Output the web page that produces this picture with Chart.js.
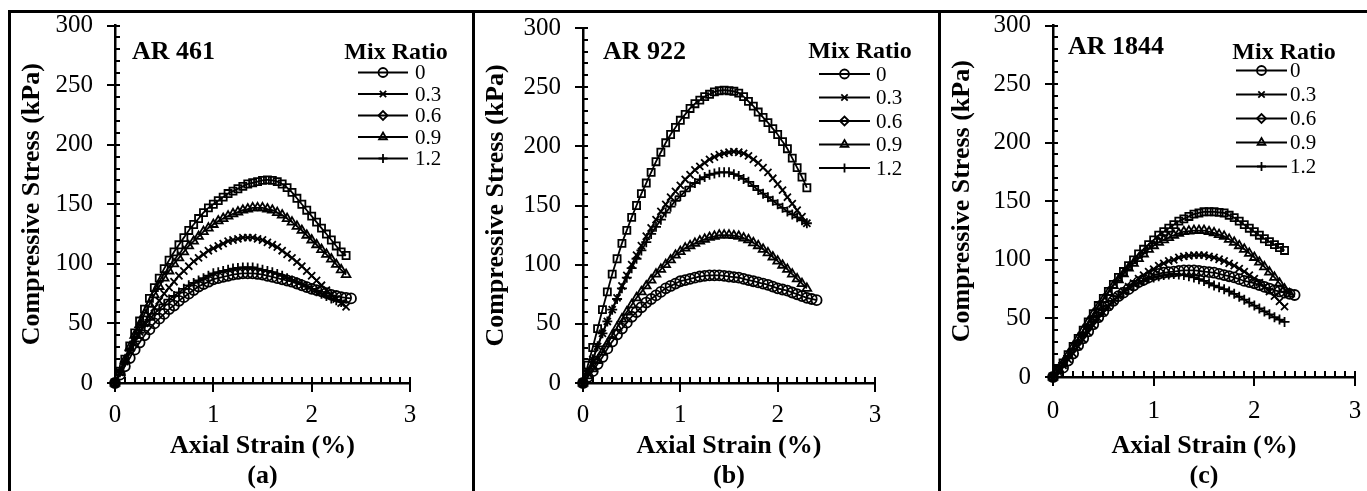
<!DOCTYPE html>
<html>
<head>
<meta charset="utf-8">
<script src="https://cdn.jsdelivr.net/npm/chart.js@4.4.1/dist/chart.umd.min.js"></script>
<style>
body{margin:0;background:#fff;width:1367px;height:491px;overflow:hidden;position:relative}
.panel{position:absolute;top:10px;height:478px;border-top:3px solid #000;border-left:3px solid #000}
.panel canvas{display:block}
#pa{left:8px;width:461px}
#pb{left:472px;width:463px}
#pc{left:938px;width:426px}
</style>
</head>
<body>
<div class="panel" id="pa"><canvas id="ca" width="461" height="478"></canvas></div>
<div class="panel" id="pb"><canvas id="cb" width="463" height="478"></canvas></div>
<div class="panel" id="pc"><canvas id="cc" width="426" height="478"></canvas></div>
<script>
// axial strain (%) readings, shared by every curve
var STRAIN = [0,0.05,0.1,0.15,0.2,0.25,0.3,0.35,0.4,0.45,0.5,0.55,0.6,0.65,0.7,0.75,0.8,0.85,0.9,0.95,
  1.0,1.05,1.1,1.15,1.2,1.25,1.3,1.35,1.4,1.45,1.5,1.55,1.6,1.65,1.7,1.75,1.8,1.85,1.9,1.95,
  2.0,2.05,2.1,2.15,2.2,2.25,2.3,2.35,2.4];

var MIX_RATIOS = ['0','0.3','0.6','0.9','1.2'];
var MARKERS = ['circle','crossRot','rect','triangle','cross'];
var LEGEND_MARKERS = ['circle','crossRot','rectRot','triangle','cross'];
var Y_TICKS = [0,50,100,150,200,250,300];
var X_TICKS = [0,1,2,3];

// compressive stress (kPa), AR 461
var ar461_0 = [0,7,14,21,28,34,40,45,50,54,58,62,65,69,72,75,78,81,83,85,87,88,89,90,91,91.5,92,92,92,91.5,91,90,89,88,87,86,85,83.5,82,80.5,79,78,77,75.5,74,73,72,71.5,71];
var ar461_03 = [0,9,18,27,35,43,50,57,63,69,75,80,85,90,94,98,102,105,108,111,113,115,117,119,120,121,122,122,122,121,120,118,116,114,111,108,105,101.5,98,94,90,86,82,78,74,70.5,67,64];
var ar461_06 = [0,10,20,31,42,52,62,71,80,88,96,103,110,116,122,128,133,138,143,147,150,153,156,159,161,163,165,167,168,169,170,170.5,170,169,167,164,160,155,150,145,140,135,130,125,120,115,110,107];
var ar461_09 = [0,9,19,30,40,49,58,66,74,81,88,94,100,105,110,115,119,123,127,130,133,136,138,140,142,143.5,145,146,147,147,147,146,145,143,141,138,135,131.5,128,124,120,116,112,108,104,99.5,95,91];
var ar461_12 = [0,9,18,27,35,42,48,53,58,62,66,70,73,76,79,82,84,86,88,90,92,93,94,95,96,96.5,97,97,97,96,95,94,93,91.5,90,88,86,84.5,83,81,79,77,75,73,71,69.5,68];

// AR 922
var ar922_0 = [0,5,10,16,22,29,35,41,46,51,56,60,64,68,71,74,77,80,82,84,86,87,88,89,90,90.5,91,91,91,90.5,90,89.5,89,88,87,86,85,84,83,81.5,80,79,78,76.5,75,73.5,72,71,70];
var ar922_03 = [0,10,20,31,42,52,62,72,82,91,100,108,116,124,131,138,145,151,157,162,167,172,176,180,183,186,189,191,193,194,195,195.5,195,194,192,189,186,182,178,173,168,163,157,151.5,146,140.5,135];
var ar922_06 = [0,15,30,46,62,77,92,105,118,129,140,150,160,169,178,187,195,203,210,216,222,227,232,236,239,242,244,246,247,247.5,247,246.5,245,242,238,234,229,224.5,220,215,210,204,198,190,182,174,165];
var ar922_09 = [0,6,12,19,26,33,40,47,54,60,66,72,77,82,87,92,96,100,104,108,111,114,116,118,120,121.5,123,124,125,125,125,124.5,124,122.5,121,118.5,116,113,110,106.5,103,99.5,96,92,88,84,80];
var ar922_12 = [0,10,20,31,42,52,62,71,80,89,97,105,112,119,126,132,138,144,149,154,158,162,166,169,172,174,176,177,178,178,178,176.5,175,172.5,170,166.5,163,160,157,154,151,148,145,142.5,140,137.5,135];

// AR 1844
var ar1844_0 = [0,4,8,14,20,27,33,39,45,51,56,61,65,69,72,75,78,81,83,85,87,88,89,89.5,90,90.5,91,91,91,90.5,90,89.5,89,88,87,86,85,83.5,82,81,80,78.5,77,75.5,74,73,72,71,70];
var ar1844_03 = [0,5,10,15,20,26,32,38,44,50,55,60,65,69,73,77,80,84,87,90,92,95,97,99,100,102,103,103.5,104,104,104,103,102,100.5,99,97,95,92.5,90,87,84,80.5,77,73,69,64.5,60];
var ar1844_06 = [0,6,12,19,26,33,40,47,54,61,67,73,79,85,90,95,100,105,109,113,117,121,124,127,130,133,135,137,139,140,141,141,141,140.5,140,138,136,133,130,127,124,121,118,115.5,113,110.5,108];
var ar1844_09 = [0,6,12,19,26,33,40,47,54,60,66,72,78,83,88,93,97,101,105,109,112,115,117,119,121,122.5,124,124.5,125,125,125,124,123,121.5,120,117.5,115,112,109,105.5,102,98,94,89.5,85,80,75,71];
var ar1844_12 = [0,6,12,18,24,30,36,42,47,52,57,61,65,69,72,75,78,80,82,84,85,86,87,87.5,88,87.5,87,86,85,83.5,82,80,78,76.5,75,73,71,68.5,66,63.5,61,58.5,56,53.5,51,49,47];

var SERIF = '"Liberation Serif", "Times New Roman", serif';

// minor / major tick marks drawn inside the axes like the original
var axisTicks = {
	id: 'axisTicks',
	afterDraw: function(chart) {
		var ctx = chart.ctx;
		var xs = chart.scales.x, ys = chart.scales.y;
		var x0 = xs.getPixelForValue(0), y0 = ys.getPixelForValue(0);
		ctx.save();
		ctx.strokeStyle = '#000';
		ctx.lineWidth = 2;
		ctx.beginPath();
		for (var v = 0; v <= 300; v += 10) {
			var py = Math.round(ys.getPixelForValue(v));
			if (v % 50 === 0) { ctx.moveTo(x0 - 8, py); ctx.lineTo(x0 + 5, py); }
			else { ctx.moveTo(x0, py); ctx.lineTo(x0 + 5, py); }
		}
		for (var k = 0; k <= 30; k++) {
			var px = Math.round(xs.getPixelForValue(k / 10));
			if (k % 10 === 0) { ctx.moveTo(px, y0 - 6); ctx.lineTo(px, y0 + 9); }
			else { ctx.moveTo(px, y0 - 6); ctx.lineTo(px, y0); }
		}
		ctx.stroke();
		ctx.restore();
	}
};

// panel label and the "Mix Ratio" key
var panelText = {
	id: 'panelText',
	afterDraw: function(chart) {
		var o = chart.options.plugins.panelText;
		var ctx = chart.ctx;
		var L = chart.chartArea.left, T = chart.chartArea.top;
		ctx.save();
		ctx.fillStyle = '#000';
		ctx.textBaseline = 'middle';
		ctx.font = 'bold 26px ' + SERIF;
		ctx.textAlign = 'left';
		ctx.fillText(o.name, L + o.nameX, T + o.nameY);

		ctx.font = 'bold 24px ' + SERIF;
		ctx.textAlign = 'center';
		ctx.fillText('Mix Ratio', L + o.keyX, T + o.keyY);

		ctx.textAlign = 'left';
		for (var i = 0; i < MIX_RATIOS.length; i++) {
			var y = T + o.rowY + i * o.rowStep;
			ctx.strokeStyle = '#000';
			ctx.lineWidth = 2.2;
			ctx.beginPath();
			ctx.moveTo(L + o.lineX0, y);
			ctx.lineTo(L + o.lineX1, y);
			ctx.stroke();
			ctx.lineWidth = 1.8;
			ctx.fillStyle = 'rgba(0,0,0,0)';
			Chart.helpers.drawPoint(ctx, {pointStyle: LEGEND_MARKERS[i], radius: 4.5, borderWidth: 1.8}, L + (o.lineX0 + o.lineX1) / 2, y);
			ctx.fillStyle = '#000';
			ctx.font = '21px ' + SERIF;
			ctx.fillText(MIX_RATIOS[i], L + o.labelX, y + 1);
		}
		ctx.restore();
	}
};

function makeChart(id, letter, series, box, text) {
	var datasets = [];
	for (var i = 0; i < series.length; i++) {
		var pts = series[i].map(function(v, j) { return {x: STRAIN[j], y: v}; });
		datasets.push({
			label: MIX_RATIOS[i],
			data: pts,
			borderColor: '#000',
			borderWidth: 1.8,
			tension: 0.4,
			cubicInterpolationMode: 'monotone',
			fill: false,
			pointStyle: MARKERS[i],
			pointRadius: 5,
			pointBorderWidth: 1.8,
			pointBorderColor: '#000',
			pointBackgroundColor: 'rgba(0,0,0,0)',
			clip: false
		});
	}
	// tick labels are pushed off the axis with invisible tick marks,
	// ticks.padding would also grow the chart's outer padding
	return new Chart(document.getElementById(id), {
		type: 'line',
		data: {datasets: datasets},
		plugins: [axisTicks, panelText],
		options: {
			responsive: false,
			animation: false,
			events: [],
			layout: {padding: {left: 0, top: box.top, right: box.right, bottom: 0}},
			plugins: {legend: {display: false}, tooltip: {enabled: false}, panelText: text},
			scales: {
				x: {
					type: 'linear', min: 0, max: 3,
					afterBuildTicks: function(s) { s.ticks = X_TICKS.map(function(v) { return {value: v}; }); },
					afterFit: function(s) { s.height = box.xh; },
					ticks: {font: {family: SERIF, size: 25, lineHeight: 1}, color: '#000', padding: 0, maxRotation: 0},
					grid: {display: true, drawOnChartArea: false, drawTicks: true, tickLength: box.xpad, tickColor: 'rgba(0,0,0,0)'},
					border: {display: true, color: '#000', width: 2.5},
					title: {display: true, text: ['Axial Strain (%)', letter], color: '#000',
						font: {family: SERIF, size: 26, weight: 'bold', lineHeight: 1.15}, padding: {top: 0, bottom: 0}}
				},
				y: {
					type: 'linear', min: 0, max: 300,
					afterBuildTicks: function(s) { s.ticks = Y_TICKS.map(function(v) { return {value: v}; }); },
					afterFit: function(s) { s.width = box.yw; },
					ticks: {font: {family: SERIF, size: 25, lineHeight: 1}, color: '#000', padding: 0},
					grid: {display: true, drawOnChartArea: false, drawTicks: true, tickLength: 22, tickColor: 'rgba(0,0,0,0)'},
					border: {display: true, color: '#000', width: 2.5},
					title: {display: true, text: 'Compressive Stress (kPa)', color: '#000',
						font: {family: SERIF, size: 26, weight: 'bold', lineHeight: 1.2}, padding: {top: 6, bottom: 0}}
				}
			}
		}
	});
}

makeChart('ca', '(a)', [ar461_0, ar461_03, ar461_06, ar461_09, ar461_12],
	{top: 12, right: 62, xh: 108, yw: 104, xpad: 20},
	{name: 'AR 461', nameX: 17, nameY: 27, keyX: 281, keyY: 27, lineX0: 243, lineX1: 293, labelX: 300, rowY: 47, rowStep: 21.5});

makeChart('cb', '(b)', [ar922_0, ar922_03, ar922_06, ar922_09, ar922_12],
	{top: 15, right: 63, xh: 108, yw: 108, xpad: 20},
	{name: 'AR 922', nameX: 20, nameY: 24, keyX: 277, keyY: 24, lineX0: 236, lineX1: 287, labelX: 293, rowY: 46, rowStep: 23.5});

makeChart('cc', '(c)', [ar1844_0, ar1844_03, ar1844_06, ar1844_09, ar1844_12],
	{top: 12, right: 12, xh: 114, yw: 112, xpad: 22},
	{name: 'AR 1844', nameX: 15, nameY: 22, keyX: 231, keyY: 27, lineX0: 183, lineX1: 234, labelX: 237, rowY: 45, rowStep: 24});
</script>
</body>
</html>
